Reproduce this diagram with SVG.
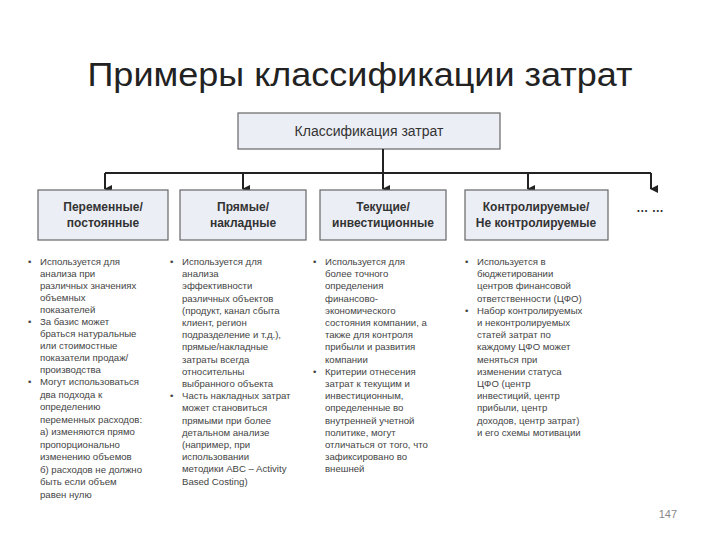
<svg xmlns="http://www.w3.org/2000/svg" width="720" height="540" viewBox="0 0 720 540">
<defs>
<marker id="ah" markerWidth="8" markerHeight="8" refX="4" refY="7" orient="auto" markerUnits="userSpaceOnUse" viewBox="0 0 8 8"><path d="M0,0 L8,0 L4,8 Z" fill="#222"/></marker>
</defs>
<style>
.t{font-family:"Liberation Sans",Arial,sans-serif;font-size:34px;fill:#222}
.box{fill:#eceef6;stroke:#666;stroke-width:1.2}
.bt{font-family:"Liberation Sans",Arial,sans-serif;font-size:12px;font-weight:bold;fill:#333;text-anchor:middle}
.tt{font-family:"Liberation Sans",Arial,sans-serif;font-size:14px;fill:#333;text-anchor:middle}
.s{font-family:"Liberation Sans",Arial,sans-serif;font-size:9.6px;fill:#444}
.ln{stroke:#222;stroke-width:2;fill:none}
</style>
<rect width="720" height="540" fill="#fff"/>
<text class="t" x="360" y="86" text-anchor="middle" textLength="545" lengthAdjust="spacingAndGlyphs">Примеры классификации затрат</text>
<g id="top"><rect class="box" x="238" y="113" width="262" height="36"/><text class="tt" x="369" y="136">Классификация затрат</text></g>
<g id="connectors">
<path class="ln" d="M383,149 V173 M105,173 H651"/>
<path class="ln" d="M105,173 V189" marker-end="url(#ah)"/>
<path class="ln" d="M243,173 V189" marker-end="url(#ah)"/>
<path class="ln" d="M383,173 V189" marker-end="url(#ah)"/>
<path class="ln" d="M528,173 V189" marker-end="url(#ah)"/>
<path class="ln" d="M651,173 V189" marker-end="url(#ah)"/>
</g>
<g id="n1"><rect class="box" x="38" y="190" width="130" height="50"/><text class="bt" x="103" y="211">Переменные/</text><text class="bt" x="103" y="227">постоянные</text></g>
<g id="n2"><rect class="box" x="180" y="190" width="126" height="50"/><text class="bt" x="243" y="211">Прямые/</text><text class="bt" x="243" y="227">накладные</text></g>
<g id="n3"><rect class="box" x="320" y="190" width="126" height="50"/><text class="bt" x="383" y="211">Текущие/</text><text class="bt" x="383" y="227">инвестиционные</text></g>
<g id="n4"><rect class="box" x="465" y="190" width="143" height="50"/><text class="bt" x="536" y="211">Контролируемые/</text><text class="bt" x="536" y="227">Не контролируемые</text></g>
<g id="n5"><text class="bt" x="650" y="212" font-size="14">… …</text></g>
<g id="c1" class="s">
<text x="28" y="265">•</text><text x="28" y="325">•</text><text x="28" y="385">•</text>
<text x="40" y="265">Используется для</text><text x="40" y="277">анализа при</text><text x="40" y="289">различных значениях</text><text x="40" y="301">объемных</text><text x="40" y="313">показателей</text>
<text x="40" y="325">За базис может</text><text x="40" y="337">браться натуральные</text><text x="40" y="349">или стоимостные</text><text x="40" y="361">показатели продаж/</text><text x="40" y="373">производства</text>
<text x="40" y="385">Могут использоваться</text><text x="40" y="397.5">два подхода к</text><text x="40" y="410">определению</text><text x="40" y="422.5">переменных расходов:</text><text x="40" y="435">а) изменяются прямо</text><text x="40" y="447.5">пропорционально</text><text x="40" y="460">изменению объемов</text><text x="40" y="472.5">б) расходов не должно</text><text x="40" y="485">быть если объем</text><text x="40" y="497.5">равен нулю</text>
</g>
<g id="c2" class="s">
<text x="170" y="265">•</text><text x="170" y="399">•</text>
<text x="182" y="265">Используется для</text><text x="182" y="277.2">анализа</text><text x="182" y="289.4">эффективности</text><text x="182" y="301.6">различных объектов</text><text x="182" y="313.8">(продукт, канал сбыта</text><text x="182" y="326">клиент, регион</text><text x="182" y="338.2">подразделение и т.д.),</text><text x="182" y="350.4">прямые/накладные</text><text x="182" y="362.6">затраты всегда</text><text x="182" y="374.8">относительны</text><text x="182" y="387">выбранного объекта</text>
<text x="182" y="399.2">Часть накладных затрат</text><text x="182" y="411.4">может становиться</text><text x="182" y="423.6">прямыми при более</text><text x="182" y="435.8">детальном анализе</text><text x="182" y="448">(например, при</text><text x="182" y="460.2">использовании</text><text x="182" y="472.4">методики ABC – Activity</text><text x="182" y="484.6">Based Costing)</text>
</g>
<g id="c3" class="s">
<text x="313" y="265">•</text><text x="313" y="375">•</text>
<text x="325" y="265">Используется для</text><text x="325" y="277.2">более точного</text><text x="325" y="289.4">определения</text><text x="325" y="301.6">финансово-</text><text x="325" y="313.8">экономического</text><text x="325" y="326">состояния компании, а</text><text x="325" y="338.2">также для контроля</text><text x="325" y="350.4">прибыли и развития</text><text x="325" y="362.6">компании</text>
<text x="325" y="374.8">Критерии отнесения</text><text x="325" y="387">затрат к текущим и</text><text x="325" y="399.2">инвестиционным,</text><text x="325" y="411.4">определенные во</text><text x="325" y="423.6">внутренней учетной</text><text x="325" y="435.8">политике, могут</text><text x="325" y="448">отличаться от того, что</text><text x="325" y="460.2">зафиксировано во</text><text x="325" y="472.4">внешней</text>
</g>
<g id="c4" class="s">
<text x="465" y="265">•</text><text x="465" y="314">•</text>
<text x="477" y="265">Используется в</text><text x="477" y="277.2">бюджетировании</text><text x="477" y="289.4">центров финансовой</text><text x="477" y="301.6">ответственности (ЦФО)</text>
<text x="477" y="313.8">Набор контролируемых</text><text x="477" y="326">и неконтролируемых</text><text x="477" y="338.2">статей затрат по</text><text x="477" y="350.4">каждому ЦФО может</text><text x="477" y="362.6">меняться при</text><text x="477" y="374.8">изменении статуса</text><text x="477" y="387">ЦФО (центр</text><text x="477" y="399.2">инвестиций, центр</text><text x="477" y="411.4">прибыли, центр</text><text x="477" y="423.6">доходов, центр затрат)</text><text x="477" y="435.8">и его схемы мотивации</text>
</g>
<text x="677" y="518" text-anchor="end" font-family="Liberation Sans,Arial,sans-serif" font-size="11" fill="#888">147</text>
</svg>
